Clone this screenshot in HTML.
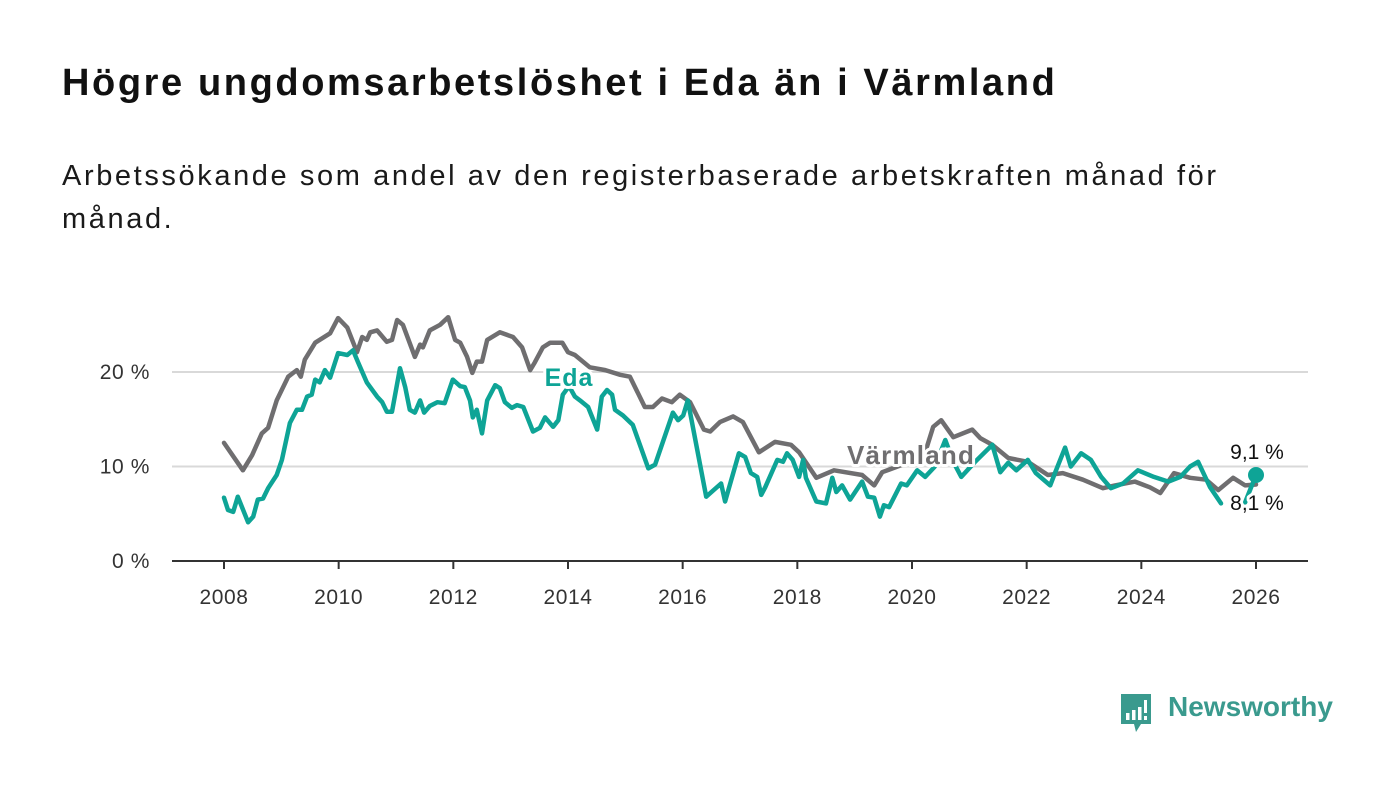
<!DOCTYPE html>
<html><head><meta charset="utf-8">
<style>
html,body{margin:0;padding:0;background:#fff;}
body{width:1400px;height:794px;position:relative;overflow:hidden;font-family:"Liberation Sans","DejaVu Sans",sans-serif;color:#111;}
h1{position:absolute;left:62px;top:62px;margin:0;font-size:38px;font-weight:bold;letter-spacing:2.6px;color:#111;white-space:nowrap;}
.sub{position:absolute;left:62px;top:155px;margin:0;font-size:29px;line-height:43px;letter-spacing:2.6px;width:1250px;color:#1a1a1a;}
svg{position:absolute;left:0;top:0;}
.lbl{paint-order:stroke;stroke:#fff;stroke-width:6px;stroke-linejoin:round;}
</style></head>
<body>
<h1>Högre ungdomsarbetslöshet i Eda än i Värmland</h1>
<p class="sub">Arbetssökande som andel av den registerbaserade arbetskraften månad för<br>månad.</p>
<svg id="chart" width="1400" height="794"></svg>
<div style="position:absolute;left:1119px;top:690px;height:46px;">
 <svg width="36" height="44" style="position:absolute;left:0;top:2px;">
  <path d="M2 2 H32 V32 H22 L17 40 L15 32 H2 Z" fill="#3a9a8e"/>
  <rect x="7" y="21" width="3.5" height="7" fill="#fff"/><rect x="13" y="18" width="3.5" height="10" fill="#fff"/><rect x="19" y="15" width="3.5" height="13" fill="#fff"/><rect x="25" y="8" width="3" height="13" fill="#fff"/><rect x="25" y="24" width="3" height="4" fill="#fff"/>
 </svg>
 <span style="position:absolute;left:49px;top:1px;font-size:28px;color:#3a9a8e;font-weight:bold;white-space:nowrap;">Newsworthy</span>
</div>
<script>
const yTicks = [0, 10, 20];
const xTicks = [2008, 2010, 2012, 2014, 2016, 2018, 2020, 2022, 2024, 2026];
const varmlandDates = [2008.0,2008.33,2008.49,2008.66,2008.77,2008.92,2009.12,2009.27,2009.34,2009.41,2009.59,2009.85,2009.99,2010.15,2010.32,2010.41,2010.49,2010.55,2010.67,2010.84,2010.93,2011.02,2011.12,2011.33,2011.42,2011.47,2011.59,2011.77,2011.91,2012.03,2012.12,2012.24,2012.33,2012.41,2012.5,2012.59,2012.81,2013.04,2013.2,2013.34,2013.42,2013.56,2013.69,2013.9,2014.0,2014.12,2014.38,2014.65,2014.91,2015.08,2015.34,2015.48,2015.64,2015.81,2015.95,2016.13,2016.37,2016.48,2016.65,2016.88,2017.05,2017.33,2017.61,2017.89,2018.03,2018.33,2018.64,2019.13,2019.34,2019.48,2019.97,2020.23,2020.37,2020.51,2020.72,2021.05,2021.19,2021.4,2021.68,2022.02,2022.37,2022.63,2022.98,2023.33,2023.54,2023.89,2024.15,2024.33,2024.57,2024.85,2025.13,2025.34,2025.6,2025.81,2026.0];
const varmlandValues = [12.5,9.6,11.2,13.5,14.1,17.0,19.5,20.2,19.5,21.3,23.1,24.1,25.7,24.7,22.1,23.7,23.4,24.2,24.4,23.2,23.4,25.5,25.0,21.6,22.9,22.6,24.4,25.0,25.8,23.4,23.1,21.6,19.9,21.1,21.1,23.4,24.2,23.7,22.6,20.2,21.0,22.6,23.1,23.1,22.1,21.8,20.5,20.2,19.7,19.5,16.3,16.3,17.2,16.8,17.6,16.8,13.9,13.7,14.7,15.3,14.7,11.5,12.6,12.3,11.5,8.8,9.6,9.1,8.0,9.4,10.5,11.5,14.2,14.9,13.1,13.9,13.0,12.3,10.9,10.5,9.1,9.3,8.6,7.7,8.0,8.4,7.8,7.2,9.3,8.8,8.6,7.5,8.8,8.0,8.1];
const edaDates = [2008.0,2008.07,2008.16,2008.24,2008.42,2008.51,2008.59,2008.68,2008.77,2008.92,2009.01,2009.15,2009.27,2009.36,2009.45,2009.53,2009.59,2009.67,2009.76,2009.85,2009.99,2010.15,2010.25,2010.34,2010.49,2010.67,2010.76,2010.84,2010.93,2011.07,2011.16,2011.24,2011.33,2011.42,2011.49,2011.59,2011.72,2011.85,2011.99,2012.12,2012.2,2012.29,2012.34,2012.41,2012.5,2012.59,2012.73,2012.81,2012.9,2013.02,2013.11,2013.22,2013.39,2013.51,2013.6,2013.74,2013.83,2013.91,2014.02,2014.12,2014.21,2014.35,2014.51,2014.59,2014.68,2014.77,2014.82,2014.96,2015.13,2015.4,2015.52,2015.83,2015.92,2016.01,2016.09,2016.41,2016.67,2016.74,2016.98,2017.09,2017.19,2017.3,2017.37,2017.44,2017.65,2017.75,2017.82,2017.92,2018.03,2018.1,2018.15,2018.33,2018.5,2018.61,2018.68,2018.78,2018.92,2019.13,2019.23,2019.34,2019.44,2019.51,2019.6,2019.81,2019.91,2020.09,2020.23,2020.4,2020.58,2020.72,2020.86,2021.1,2021.4,2021.54,2021.68,2021.82,2022.02,2022.16,2022.41,2022.5,2022.67,2022.77,2022.95,2023.12,2023.3,2023.47,2023.68,2023.94,2024.22,2024.47,2024.68,2024.85,2024.99,2025.2,2025.39,2025.6,2025.81,2026.0];
const edaValues = [6.7,5.4,5.2,6.8,4.1,4.7,6.5,6.6,7.7,9.1,10.7,14.6,16.0,16.0,17.4,17.6,19.2,18.9,20.2,19.4,22.0,21.8,22.3,21.0,18.9,17.4,16.8,15.8,15.8,20.4,18.4,16.0,15.7,17.0,15.7,16.4,16.8,16.7,19.2,18.5,18.4,17.0,15.2,16.0,13.5,17.0,18.6,18.3,16.8,16.2,16.5,16.3,13.7,14.1,15.2,14.2,14.9,17.6,18.5,17.4,17.0,16.3,13.9,17.4,18.1,17.6,16.0,15.4,14.4,9.8,10.2,15.7,14.9,15.4,17.0,6.8,8.2,6.3,11.4,11.0,9.3,8.9,7.0,7.8,10.7,10.5,11.4,10.7,8.9,10.7,8.8,6.3,6.1,8.8,7.3,8.0,6.5,8.4,6.8,6.7,4.7,5.9,5.7,8.2,8.0,9.6,8.9,10.0,12.8,10.5,8.9,10.5,12.3,9.4,10.4,9.6,10.7,9.3,8.0,9.4,12.0,10.0,11.4,10.7,8.9,7.7,8.2,9.6,8.9,8.4,8.9,10.0,10.5,7.8,6.1,null,6.2,9.1];
const edaLast = "9,1 %", varmlandLast = "8,1 %";

const NS='http://www.w3.org/2000/svg';
const svg=document.getElementById('chart');
const X=y=>224+(y-2008)*(1032/18);
const Y=v=>561-v*9.45;
function mk(tag,attrs,parent){const e=document.createElementNS(NS,tag);for(const k in attrs)e.setAttribute(k,attrs[k]);(parent||svg).appendChild(e);return e;}
yTicks.forEach(t=>{
  if(t>0){const g=mk('line',{x1:172,x2:1308,y1:Y(t),y2:Y(t),stroke:'#d9d9d9','stroke-width':2});
  
  }
  const tx=mk('text',{x:150,y:Y(t)+7,'text-anchor':'end','font-size':21,'letter-spacing':0.6,fill:'#333'});
  tx.textContent=t+' %';
  
  
});
const ax=mk('line',{x1:172,x2:1308,y1:Y(0),y2:Y(0),stroke:'#333','stroke-width':2});


xTicks.forEach(t=>{
  const tk=mk('line',{x1:X(t),x2:X(t),y1:Y(0),y2:Y(0)+8,stroke:'#333','stroke-width':2});
  
  
  const tx=mk('text',{x:X(t),y:604,'text-anchor':'middle','font-size':21,'letter-spacing':0.6,fill:'#333'});
  tx.textContent=t;
  
  
});
function path(dates,vals){let d='',pen=false;dates.forEach((t,i)=>{const v=vals[i];if(v==null){pen=false;return;}d+=(pen?'L':'M')+X(t).toFixed(1)+' '+Y(v).toFixed(1);pen=true;});return d;}
const vl=mk('path',{d:path(varmlandDates,varmlandValues),fill:'none',stroke:'#6f6e70','stroke-width':4.5,'stroke-linejoin':'round','stroke-linecap':'round'});


const el=mk('path',{d:path(edaDates,edaValues),fill:'none',stroke:'#0ea496','stroke-width':4.5,'stroke-linejoin':'round','stroke-linecap':'round'});


const n=edaDates.length-1;
const dot=mk('circle',{cx:X(edaDates[n]),cy:Y(edaValues[n]),r:8,fill:'#0ea496'});


const l1=mk('text',{x:569,y:386,'text-anchor':'middle','font-size':25,'font-weight':'bold','letter-spacing':1,fill:'#0ea496',class:'lbl'});
l1.textContent='Eda';


const l2=mk('text',{x:911,y:464,'text-anchor':'middle','font-size':26,'font-weight':'bold','letter-spacing':1.2,fill:'#6f6e70',class:'lbl'});
l2.textContent='Värmland';


const e1=mk('text',{x:1257,y:459,'text-anchor':'middle','font-size':21,fill:'#111',class:'lbl'});
e1.textContent=edaLast;


const e2=mk('text',{x:1257,y:510,'text-anchor':'middle','font-size':21,fill:'#111',class:'lbl'});
e2.textContent=varmlandLast;


</script>
</body></html>
